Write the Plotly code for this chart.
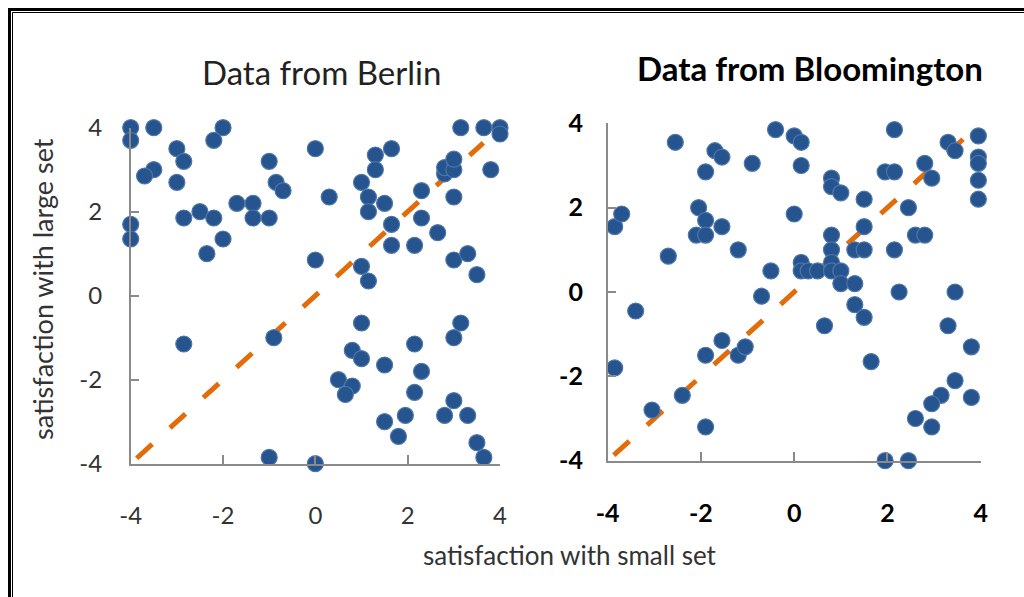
import plotly.graph_objects as go

# Berlin: satisfaction with small set (x) vs large set (y)
berlin_small = [-4.0, -3.5, -4.0, -3.0, -2.85, -3.5, -3.7, -3.0, -2.0, -2.2,
                -2.5, -2.85, -2.2, -1.7, -1.35, -1.35, -1.0, -2.0, -2.35, -4.0,
                -4.0, -1.0, -0.85, -0.7, 0.0, 0.0, 0.3, 1.0, 1.15, 1.15,
                1.5, 1.3, 1.3, 1.65, 2.3, 2.3, 1.65, 1.65, 2.15, 2.65,
                1.0, 1.15, 3.0, 3.0, 3.3, 3.5, 3.15, 3.65, 4.0, 4.0,
                3.8, 2.8, 2.8, 3.0, 3.0, -2.85, -0.9, -1.0, 0.0, 1.0,
                0.8, 1.0, 1.5, 0.5, 0.8, 0.65, 2.15, 2.3, 2.15, 1.95,
                1.5, 1.8, 3.0, 3.15, 3.0, 2.8, 3.3, 3.5, 3.65]
berlin_large = [4.0, 4.0, 3.7, 3.5, 3.2, 3.0, 2.85, 2.7, 4.0, 3.7,
                2.0, 1.85, 1.85, 2.2, 2.2, 1.85, 1.85, 1.35, 1.0, 1.7,
                1.35, 3.2, 2.7, 2.5, 3.5, 0.85, 2.35, 2.7, 2.35, 2.0,
                2.2, 3.35, 3.0, 3.5, 2.5, 1.85, 1.7, 1.2, 1.2, 1.5,
                0.7, 0.35, 2.35, 0.85, 1.0, 0.5, 4.0, 4.0, 4.0, 3.85,
                3.0, 2.9, 3.05, 3.0, 3.25, -1.15, -1.0, -3.85, -4.0, -0.65,
                -1.3, -1.5, -1.65, -2.0, -2.15, -2.35, -1.15, -1.8, -2.3, -2.85,
                -3.0, -3.35, -1.0, -0.65, -2.5, -2.85, -2.85, -3.5, -3.85]

# Bloomington
bloom_small = [-3.85, -3.7, -2.7, -2.55, -1.7, -1.55, -1.9, -2.05, -1.9, -2.1,
               -1.9, -1.55, -1.2, -0.9, -0.4, -0.5, -0.7, -0.2, 0.0, 0.15,
               0.15, 1.3, 2.15, 2.95, 3.95, 3.95, 3.3, 3.45, 3.95, 3.95,
               2.8, 2.95, 3.95, 3.95, 1.95, 2.15, 0.8, 0.8, 1.0, 1.5,
               2.45, 0.0, 1.5, 0.8, 0.8, 1.3, 1.5, 2.15, 2.6, 2.8,
               0.15, 0.15, 0.3, 0.5, 0.8, 0.8, 1.0, 1.0, 1.3, 2.25,
               3.45, 1.3, 1.5, 0.65, 1.65, 3.3, 3.8, 3.45, 3.15, 2.95,
               3.8, 2.6, 2.95, 1.95, 2.45, -3.4, -3.85, -1.55, -1.9, -1.2,
               -1.05, -2.4, -3.05, -1.9]
bloom_large = [1.55, 1.85, 0.85, 3.55, 3.35, 3.2, 2.85, 2.0, 1.7, 1.35,
               1.35, 1.55, 1.0, 3.05, 3.85, 0.5, -0.1, 4.05, 3.7, 3.55,
               3.0, 4.05, 3.85, 4.05, 4.05, 3.7, 3.55, 3.35, 3.2, 3.05,
               3.05, 2.7, 2.65, 2.2, 2.85, 2.85, 2.7, 2.5, 2.35, 2.2,
               2.0, 1.85, 1.55, 1.35, 1.0, 1.0, 1.0, 1.0, 1.35, 1.35,
               0.7, 0.5, 0.5, 0.5, 0.7, 0.5, 0.5, 0.2, 0.2, 0.0,
               0.0, -0.3, -0.6, -0.8, -1.65, -0.8, -1.3, -2.1, -2.45, -2.65,
               -2.5, -3.0, -3.2, -4.0, -4.0, -0.45, -1.8, -1.15, -1.5, -1.5,
               -1.3, -2.45, -2.8, -3.2]

# reference line y = x
diag = [-3.87, 3.64]

tick_vals = [-4, -2, 0, 2, 4]
tick_text = ["-4", "-2", "0", "2", "4"]

W, H = 1024, 597
DOT = "#25548f"
DOT_EDGE = "#4f76a8"
ORANGE = "#E36C0A"
AXIS = "#8a8a8a"
FONT = "Lato"

fig = go.Figure()

for xs, ys, xa, ya in [(berlin_small, berlin_large, "x", "y"),
                       (bloom_small, bloom_large, "x2", "y2")]:
    fig.add_trace(go.Scatter(
        x=diag, y=diag, xaxis=xa, yaxis=ya, mode="lines",
        line=dict(color=ORANGE, width=5, dash="21px,24px"),
        cliponaxis=False, hoverinfo="skip", showlegend=False))
    fig.add_trace(go.Scatter(
        x=xs, y=ys, xaxis=xa, yaxis=ya, mode="markers",
        marker=dict(size=16, color=DOT, line=dict(color=DOT_EDGE, width=1.2)),
        cliponaxis=False, showlegend=False))


def px_x(p):
    return p / W


def px_y(p):
    return 1 - p / H


common = dict(range=[-4, 4], showgrid=False, zeroline=False, showline=True,
              linecolor=AXIS, linewidth=1.5, ticks="inside", ticklen=9,
              tickwidth=1.5, tickcolor=AXIS, tickvals=tick_vals,
              ticktext=tick_text, fixedrange=True, automargin=False)

left_tick_font = dict(family=FONT, size=24, color="#333333")
right_tick_font = dict(family=FONT, size=25, color="#000000", weight="bold")

fig.update_layout(
    width=W, height=H, autosize=False,
    margin=dict(l=0, r=0, t=0, b=0, pad=0, autoexpand=False),
    paper_bgcolor="white", plot_bgcolor="white",
    xaxis=dict(common, domain=[px_x(130.7), px_x(500)], anchor="y",
               tickfont=left_tick_font, ticklabelstandoff=30),
    yaxis=dict(common, domain=[px_y(463.7), px_y(127.7)], anchor="x",
               tickfont=left_tick_font, ticklabelstandoff=22),
    xaxis2=dict(common, domain=[px_x(607.7), px_x(980.7)], anchor="y2",
                tickfont=right_tick_font, ticklabelstandoff=30),
    yaxis2=dict(common, domain=[px_y(460.7), px_y(123.3)], anchor="x2",
                tickfont=right_tick_font, ticklabelstandoff=18),
)

annotations = [
    dict(text="Data from Berlin", x=px_x(321), y=px_y(72),
         font=dict(family=FONT, size=33, color="#222222")),
    dict(text="<b>Data from Bloomington</b>", x=px_x(810), y=px_y(68),
         font=dict(family=FONT, size=33, color="#000000")),
    dict(text="satisfaction with small set", x=px_x(570), y=px_y(555),
         font=dict(family=FONT, size=26, color="#333333")),
    dict(text="satisfaction with large set", x=px_x(42), y=px_y(289),
         textangle=-90, font=dict(family=FONT, size=27, color="#333333")),
]
for a in annotations:
    a.update(xref="paper", yref="paper", showarrow=False,
             xanchor="center", yanchor="middle")
fig.update_layout(annotations=annotations)

# double frame along the top and left edges
frame = [
    dict(x0=px_x(8), x1=1, y0=px_y(9.5), y1=px_y(9.5), width=3),
    dict(x0=px_x(9.5), x1=px_x(9.5), y0=px_y(8), y1=0, width=3),
    dict(x0=px_x(12.5), x1=1, y0=px_y(12.5), y1=px_y(12.5), width=1),
    dict(x0=px_x(12.5), x1=px_x(12.5), y0=px_y(12.5), y1=0, width=1),
]
fig.update_layout(shapes=[
    dict(type="line", xref="paper", yref="paper", x0=f["x0"], x1=f["x1"],
         y0=f["y0"], y1=f["y1"], line=dict(color="black", width=f["width"]))
    for f in frame
])

fig.write_html(
    "out.html",
    config={"displayModeBar": False},
    post_script="document.body.style.margin='0';"
                "document.body.style.overflow='hidden';"
                "document.documentElement.style.overflow='hidden';",
)
